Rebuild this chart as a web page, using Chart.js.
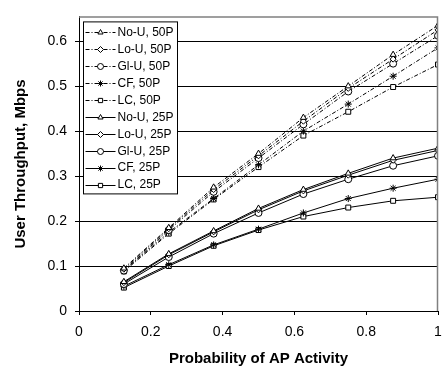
<!DOCTYPE html>
<html><head><meta charset="utf-8">
<script src="https://cdn.jsdelivr.net/npm/chart.js@4.4.1/dist/chart.umd.min.js"></script>
<style>html,body{margin:0;padding:0;background:#fff}#wrap{width:443px;height:371px}</style>
</head><body><div id="wrap"><canvas id="c" width="443" height="371"></canvas></div>
<script>
const xValues = [0.125, 0.25, 0.375, 0.5, 0.625, 0.75, 0.875, 1.0];
const noU50 = [0.095, 0.185, 0.275, 0.350, 0.430, 0.500, 0.570, 0.635];
const loU50 = [0.093, 0.183, 0.270, 0.345, 0.422, 0.495, 0.560, 0.625];
const glU50 = [0.090, 0.180, 0.265, 0.340, 0.415, 0.488, 0.550, 0.612];
const cf50  = [0.090, 0.175, 0.250, 0.325, 0.400, 0.460, 0.522, 0.585];
const lc50  = [0.088, 0.172, 0.248, 0.320, 0.390, 0.443, 0.498, 0.548];
const noU25 = [0.065, 0.127, 0.178, 0.228, 0.270, 0.306, 0.340, 0.362];
const loU25 = [0.063, 0.125, 0.176, 0.225, 0.267, 0.302, 0.335, 0.357];
const glU25 = [0.060, 0.120, 0.172, 0.218, 0.260, 0.293, 0.323, 0.345];
const cf25  = [0.055, 0.103, 0.147, 0.182, 0.218, 0.250, 0.273, 0.293];
const lc25  = [0.052, 0.100, 0.145, 0.180, 0.210, 0.230, 0.245, 0.253];
const seriesLabels = ['No-U, 50P','Lo-U, 50P','Gl-U, 50P','CF, 50P','LC, 50P','No-U, 25P','Lo-U, 25P','Gl-U, 25P','CF, 25P','LC, 25P'];
const yTicks = [0, 0.1, 0.2, 0.3, 0.4, 0.5, 0.6];
const xTicks = [0, 0.2, 0.4, 0.6, 0.8, 1];
const xTitle = 'Probability of AP Activity';
const yTitle = 'User Throughput, Mbps';

const allSeries = [noU50, loU50, glU50, cf50, lc50, noU25, loU25, glU25, cf25, lc25];
const styles = ['triangle','rectRot','circle','star','rect','triangle','rectRot','circle','star','rect'];
const dashDot = [4,2,1,2];
const FONT = '"Liberation Sans", Arial, sans-serif';

const datasets = allSeries.map((arr, i) => ({
  label: seriesLabels[i],
  data: arr.map((v, j) => ({x: xValues[j], y: v})),
  borderColor: '#000',
  borderWidth: 1,
  borderDash: i < 5 ? dashDot : [],
  pointStyle: styles[i],
  pointRadius: styles[i]==='rectRot' ? 3 : 3.5,
  pointBorderWidth: 1,
  pointBorderColor: '#000',
  pointBackgroundColor: '#fff',
  showLine: true,
  fill: false,
  tension: 0
}));

const frame = {
  id: 'frame',
  afterDraw(chart) {
    const {ctx, chartArea: a} = chart;
    ctx.save();
    ctx.strokeStyle = '#808080';
    ctx.lineWidth = 1.5;
    ctx.beginPath();
    ctx.moveTo(a.left, a.top + 0.5);
    ctx.lineTo(a.right - 0.5, a.top + 0.5);
    ctx.lineTo(a.right - 0.5, a.bottom);
    ctx.stroke();
    // titles
    ctx.fillStyle = '#000';
    ctx.font = 'bold 15px ' + FONT;
    ctx.textAlign = 'center';
    ctx.textBaseline = 'alphabetic';
    ctx.fillText(xTitle, (a.left + a.right) / 2, 363);
    ctx.save();
    ctx.translate(25, 164);
    ctx.rotate(-Math.PI / 2);
    ctx.fillText(yTitle, 0, 0);
    ctx.restore();
    // legend
    const bx = a.left + 4.5, by = a.top + 5.5, bw = 94, bh = 172;
    ctx.fillStyle = '#fff';
    ctx.fillRect(bx, by, bw, bh);
    ctx.strokeStyle = '#000';
    ctx.lineWidth = 1;
    ctx.strokeRect(bx, by, bw, bh);
    ctx.font = '12px ' + FONT;
    ctx.textBaseline = 'middle';
    ctx.textAlign = 'left';
    for (let i = 0; i < seriesLabels.length; i++) {
      const y = by + 10.5 + i * 16.9;
      ctx.strokeStyle = '#000';
      ctx.lineWidth = 1;
      ctx.setLineDash(i < 5 ? dashDot : []);
      ctx.beginPath();
      ctx.moveTo(bx + 2, Math.round(y) + 0.5);
      ctx.lineTo(bx + 32, Math.round(y) + 0.5);
      ctx.stroke();
      ctx.setLineDash([]);
      ctx.fillStyle = '#fff';
      Chart.helpers.drawPoint(ctx, {pointStyle: styles[i], radius: 3, borderWidth: 1}, bx + 17, Math.round(y) + 0.5);
      ctx.fillStyle = '#000';
      ctx.fillText(seriesLabels[i], bx + 34, y + 0.5);
    }
    ctx.restore();
  }
};

new Chart(document.getElementById('c'), {
  type: 'scatter',
  data: { datasets },
  options: {
    responsive: false,
    animation: false,
    devicePixelRatio: 1,
    layout: { padding: { top: 4, right: 2, left: 0, bottom: 0 } },
    plugins: { legend: { display: false }, tooltip: { enabled: false } },
    scales: {
      x: {
        type: 'linear', min: 0, max: 1,
        afterBuildTicks: s => { s.ticks = xTicks.map(v => ({value: v})); },
        afterFit: s => { s.height = 60; s.paddingLeft = 0; s.paddingRight = 0; },
        border: { color: '#000', width: 1 },
        grid: { drawOnChartArea: false, drawTicks: true, tickLength: 4, color: '#000' },
        ticks: { color: '#000', font: { size: 14, family: FONT }, padding: 9, maxRotation: 0,
                 callback: v => String(v) }
      },
      y: {
        type: 'linear', min: 0, max: 0.655,
        afterBuildTicks: s => { s.ticks = yTicks.map(v => ({value: v})); },
        afterFit: s => { s.width = 79; },
        border: { color: '#000', width: 1 },
        grid: { color: '#000', lineWidth: 1, drawTicks: true, tickLength: 4 },
        ticks: { color: '#000', font: { size: 14, family: FONT }, padding: 8,
                 callback: v => String(v) }
      }
    }
  },
  plugins: [frame]
});
</script></body></html>
